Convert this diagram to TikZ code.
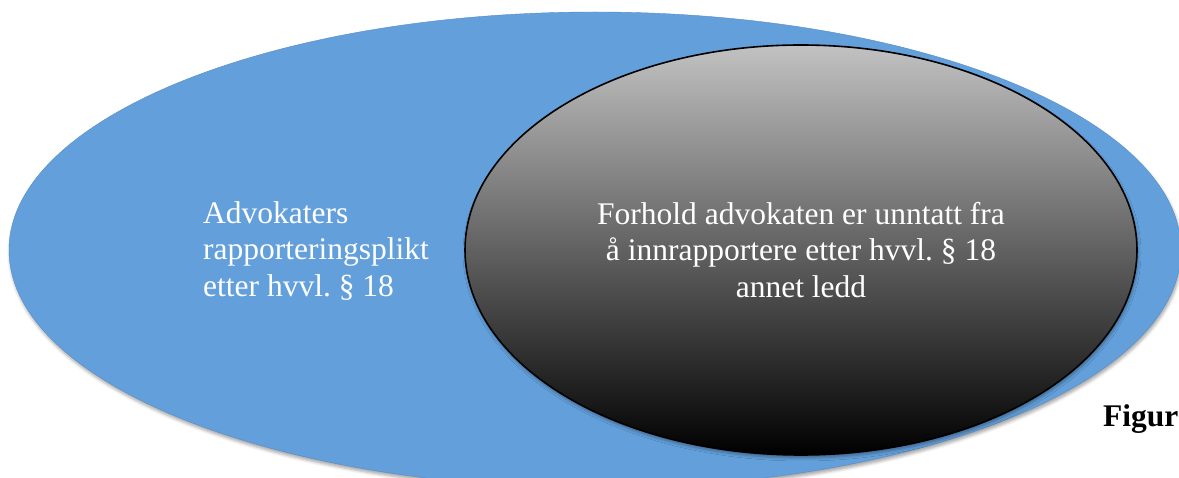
\documentclass[tikz,border=0pt]{standalone}
\usepackage{fontspec}
\setmainfont{Liberation Serif}
\usetikzlibrary{shapes.geometric,shadows.blur}

\definecolor{setblue}{RGB}{99,160,219}
\definecolor{setedge}{RGB}{85,140,200}

\begin{document}
\frenchspacing
\begin{tikzpicture}[x=1pt, y=1pt,
    outerset/.style={ellipse, fill=setblue, draw=setedge, thin, inner sep=0pt,
      blur shadow={shadow xshift=1pt, shadow yshift=-3pt, shadow blur radius=3pt, shadow opacity=35}},
    innerset/.style={ellipse, draw=black, line width=1.6pt, inner sep=0pt,
      top color=black!24, bottom color=black, text=white, align=center,
      blur shadow={shadow xshift=1pt, shadow yshift=-3pt, shadow blur radius=3pt, shadow opacity=35}},
    settext/.style={text=white, font=\fontsize{31.5}{36.5}\selectfont}]

    % page frame
    \useasboundingbox (0,0) rectangle (1179,477);
    \clip (0,0) rectangle (1179,477);

    % the two sets
    \node[outerset, minimum width=1172pt, minimum height=476pt] (outer) at (595,227) {};
    \node[innerset, settext, minimum width=672pt, minimum height=410pt] (inner) at (801,227)
      {Forhold advokaten er unntatt fra\\ å innrapportere etter hvvl. § 18\\ annet ledd};

    % labels
    \node[settext, anchor=west, align=left, inner sep=0pt] (duty) at (203,226)
      {Advokaters\\ rapporteringsplikt\\ etter hvvl. § 18};
    \node[anchor=base west, inner sep=0pt, font=\fontsize{31.5}{36.5}\selectfont\bfseries] (fig) at (1103,50) {Figur};

\end{tikzpicture}
\end{document}
